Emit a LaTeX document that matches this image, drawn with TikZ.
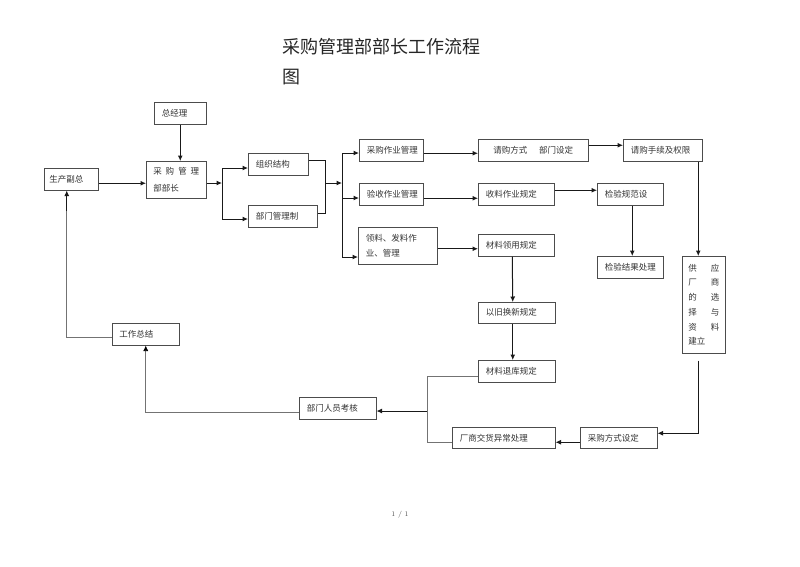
\documentclass[tikz,border=0pt]{standalone}
\usepackage{fontspec}
\newfontfamily\cjk{Noto Sans CJK SC}
\usetikzlibrary{arrows.meta}
\usetikzlibrary{shadows}
\tikzset{
  box/.style = {draw=black!70, fill=white, line width=0.5pt, rectangle,
    anchor=north west, inner xsep=7.5pt, inner ysep=0pt, align=left,
    text=black!80, font=\cjk\fontsize{8.5}{15}\selectfont,
    drop shadow={shadow xshift=0.8pt, shadow yshift=-0.8pt, opacity=0.9,
      fill=black}},% rectangle a bord epais en bas et a droite
  conn/.style = {draw=black!90, line width=1pt,
    -{Latex[length=5.5pt,width=5pt]}},
  plain/.style = {draw=black!90, line width=1pt},
  thinline/.style = {draw=black!55, line width=0.6pt},
  thinconn/.style = {thinline, -{Latex[length=5.5pt,width=5pt,color=black]}}
}

\begin{document}
\begin{tikzpicture}[x=1pt,y=-1pt]
\useasboundingbox (0,0) rectangle (800,566);

% titre
\node [anchor=base west, inner sep=0pt, text=black!85,
  font=\cjk\fontsize{18}{30}\selectfont] (ttl) at (282,53) {采购管理部部长工作流程};
\node [anchor=base west, inner sep=0pt, text=black!85,
  font=\cjk\fontsize{18}{30}\selectfont] (ttl2) at (282,83) {图};

% colonne de gauche
\node [box, text width=37pt, minimum height=22pt] (zjl) at (154,102) {总经理};
\node [box, text width=44pt, minimum height=22pt, inner xsep=5pt] (scfz) at (44,168) {生产副总};
\node [box, text width=46pt, minimum height=37pt, inner xsep=7pt, font=\cjk\fontsize{8.5}{17}\selectfont]
  (cgbz) at (146,161) {采\hfill 购\hfill 管\hfill 理\\部部长};
\node [box, text width=45pt, minimum height=22pt] (zzjg) at (248,153) {组织结构};
\node [box, text width=54pt, minimum height=22pt] (bmglz) at (248,205) {部门管理制};
\node [box, text width=53pt, minimum height=22pt, inner xsep=7pt] (gzzj) at (112,323) {工作总结};
\node [box, text width=62pt, minimum height=22pt] (bmry) at (299,397) {部门人员考核};

% trois domaines
\node [box, text width=49pt, minimum height=22pt] (cgzy) at (359,139) {采购作业管理};
\node [box, text width=49pt, minimum height=22pt] (yszy) at (359,183) {验收作业管理};
\node [box, text width=64pt, minimum height=37pt] (llzy) at (358,227) {领料、发料作\\业、管理};

\node [box, text width=95pt, minimum height=22pt, align=center] (qgfs) at (478,139)
  {请购方式\hspace{12pt}部门设定};
\node [box, text width=64pt, minimum height=22pt] (qgsx) at (623,139) {请购手续及权限};
\node [box, text width=61pt, minimum height=22pt] (slzy) at (478,183) {收料作业规定};
\node [box, text width=51pt, minimum height=22pt] (jygf) at (597,183) {检验规范设};
\node [box, text width=51pt, minimum height=22pt] (jyjg) at (597,256) {检验结果处理};
\node [box, text width=61pt, minimum height=22pt] (clly) at (478,234) {材料领用规定};
\node [box, text width=31pt, minimum height=97pt, inner xsep=6pt,
  font=\cjk\fontsize{8.5}{14.7}\selectfont] (gycs) at (682,256)
  {供\hfill 应\\厂\hfill 商\\的\hfill 选\\择\hfill 与\\资\hfill 料\\建立};
\node [box, text width=62pt, minimum height=21pt] (yjhx) at (478,302) {以旧换新规定};
\node [box, text width=62pt, minimum height=22pt] (cltk) at (478,360) {材料退库规定};
\node [box, text width=88pt, minimum height=21pt] (csjh) at (452,427) {厂商交货异常处理};
\node [box, text width=62pt, minimum height=21pt] (cgfs) at (580,427) {采购方式设定};

% page
\node [font=\fontsize{7}{8}\selectfont, text=black!70] (pg) at (400,515) {1 / 1};

% points de jonction
\coordinate (j1) at (222,183);
\coordinate (j1t) at (222,168);
\coordinate (j1b) at (222,219);
\coordinate (j2t) at (325,160);
\coordinate (j2b) at (325,213);
\coordinate (j2) at (325,183);
\coordinate (bus) at (342,183);
\coordinate (bust) at (342,153);
\coordinate (busm) at (342,198);
\coordinate (busb) at (342,257);
\coordinate (br) at (427,411);
\coordinate (brt) at (427,376);
\coordinate (brb) at (427,442);
\coordinate (d1) at ([xshift=-5.5pt]gycs.north);
\coordinate (d2) at ([xshift=-5.5pt,yshift=-7pt]gycs.south);
\coordinate (d3) at ([xshift=-4.5pt]scfz.south);

\draw[conn] (zjl.south) -- (zjl.south |- cgbz.north);
\draw[conn] ([yshift=-4pt]scfz.east) -- ([yshift=-4pt]scfz.east -| cgbz.west);
\draw[conn] (cgbz.east |- j1) -- (j1);
\draw[plain] (j1t) -- (j1b);
\draw[conn] (j1t) -- (j1t -| zzjg.west);
\draw[conn] (j1b) -- (j1b -| bmglz.west);
\draw[plain] (j2t -| zzjg.east) -- (j2t) -- (j2b) -- (j2b -| bmglz.east);
\draw[conn] (j2) -- (bus);
\draw[plain] (bust) -- (busb);
\draw[conn] (bust) -- (bust -| cgzy.west);
\draw[conn] (busm) -- (busm -| yszy.west);
\draw[conn] (busb) -- (busb -| llzy.west);

\draw[conn] ([yshift=-3pt]cgzy.east) -- ([yshift=-3pt]cgzy.east -| qgfs.west);
\draw[conn] ([yshift=5pt]qgfs.east) -- ([yshift=5pt]qgfs.east -| qgsx.west);
\draw[conn] ([yshift=-4pt]yszy.east) -- ([yshift=-4pt]yszy.east -| slzy.west);
\draw[conn] ([yshift=4pt]slzy.east) -- ([yshift=4pt]slzy.east -| jygf.west);
\draw[conn] ([yshift=-3pt]llzy.east) -- ([yshift=-3pt]llzy.east -| clly.west);
\draw[conn] ([xshift=2pt]jygf.south) -- ([xshift=2pt]jyjg.north);
\draw[conn] (d1 |- qgsx.south) -- (d1);

\draw[conn] ([xshift=-4pt]clly.south) -- ([xshift=-4pt]yjhx.north);
\draw[conn] ([xshift=-4pt]yjhx.south) -- ([xshift=-4pt]cltk.north);
\draw[conn] (d2) |- ([yshift=4.5pt]cgfs.east);
\draw[conn] ([yshift=-4.5pt]cgfs.west) -- ([yshift=-4.5pt]cgfs.west -| csjh.east);

\draw[thinline] (brt -| cltk.west) -- (brt) -- (brb) -- (brb -| csjh.west);
\draw[conn] (br) -- (br -| bmry.east);
\draw[thinconn] ([yshift=-4pt]bmry.west) -| (gzzj.south);
\draw[thinline] ([yshift=-3pt]gzzj.west) -| ([yshift=-20pt]d3);
\draw[conn] ([yshift=-20pt]d3) -- (d3);
\end{tikzpicture}
\end{document}
